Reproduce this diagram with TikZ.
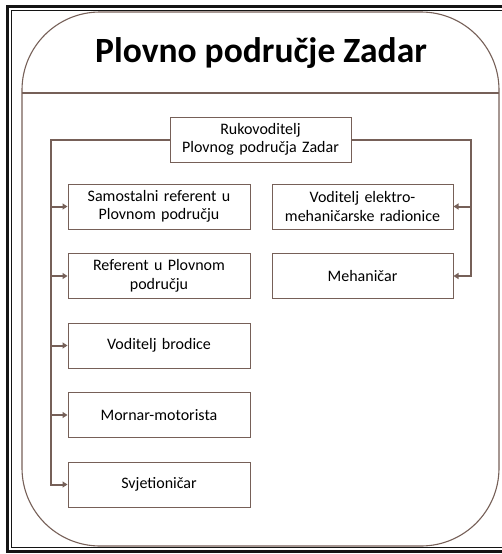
\documentclass[tikz,border=0pt]{standalone}
\usepackage{fontspec}
\setmainfont{Carlito}
\usepackage{tikz}
\usetikzlibrary{arrows.meta, positioning}
\definecolor{mybrown}{RGB}{118,96,88}
\definecolor{mydark}{RGB}{20,20,20}
\tikzset{
  unitbox/.style={rectangle, draw=mybrown, fill=white,
    text width=182pt, align=center, minimum height=45pt,
    inner sep=0pt, font=\fontsize{16}{18.5}\selectfont, line width=1pt},
  headbox/.style={unitbox, text width=181pt},
  arrow/.style={-{Triangle[width=6pt,length=5pt]}, line width=2pt, color=mybrown},
  frame/.style={draw=mybrown, line width=1.1pt}
}
\begin{document}
\begin{tikzpicture}[x=1pt, y=-1pt]
  \useasboundingbox (0,0) rectangle (501,554);

  % Double page border
  \draw[line width=3pt, color=mydark] (7.5,6.5) rectangle (515,551.5);
  \draw[line width=1pt, color=mydark] (11.5,10.5) rectangle (511,547.5);

  % Rounded frame with header
  \draw[frame, rounded corners=78pt] (22,12) rectangle (499,546);
  \draw[frame] (22,93) -- (499,93);
  \node[font=\fontsize{35.5}{40}\selectfont\bfseries] (title) at (261,53) {Plovno područje Zadar};

  % Head
  \node[headbox] (ruk) at (260.5,139.5) {Rukovoditelj\\Plovnog područja Zadar};

  % Left column
  \node[unitbox] (samo) at (159,206.5) {Samostalni referent u\\Plovnom području};
  \node[unitbox, below=23.5pt of samo] (ref) {Referent u Plovnom\\području};
  \node[unitbox, below=23.5pt of ref] (brod) {Voditelj brodice};
  \node[unitbox, below=23.5pt of brod] (morn) {Mornar-motorista};
  \node[unitbox, below=23.5pt of morn] (svj) {Svjetioničar};

  % Right column
  \node[headbox] (elek) at (362.5,206.5) {Voditelj elektro-\\mehaničarske radionice};
  \node[headbox, below=23.5pt of elek] (meh) {Mehaničar};

  % Connectors
  \foreach \n in {samo, ref, brod, morn, svj}
    \draw[arrow] (ruk.west) -| ([xshift=-17pt]\n.west) -- (\n.west);
  \foreach \n in {elek, meh}
    \draw[arrow] (ruk.east) -| ([xshift=17pt]\n.east) -- (\n.east);
\end{tikzpicture}
\end{document}
